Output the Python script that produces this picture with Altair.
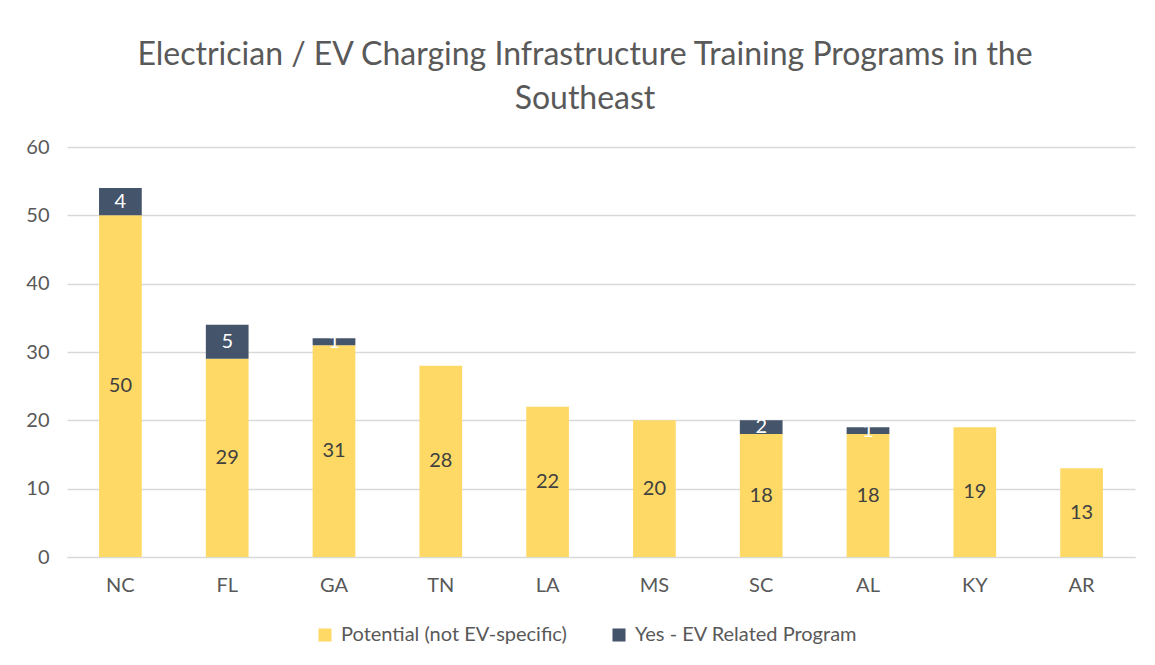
import altair as alt
import pandas as pd

states = ["NC", "FL", "GA", "TN", "LA", "MS", "SC", "AL", "KY", "AR"]
potential = [50, 29, 31, 28, 22, 20, 18, 18, 19, 13]
ev_related = [4, 5, 1, 0, 0, 0, 2, 1, 0, 0]
series = ["Potential (not EV-specific)", "Yes - EV Related Program"]
colors = ["#FFD966", "#44546A"]

rows = []
for s, p, e in zip(states, potential, ev_related):
    rows.append({"state": s, "series": series[0], "value": p, "ord": 0})
    rows.append({"state": s, "series": series[1], "value": e, "ord": 1})
df = pd.DataFrame(rows)

FONT = "Lato"
GRAY = "#595959"

x_enc = alt.X("state:N", sort=states, title=None,
              scale=alt.Scale(paddingInner=0.6, paddingOuter=0.3),
              axis=alt.Axis(labelAngle=0, ticks=False, domain=True, domainColor="#D9D9D9",
                            labelPadding=18, labelFontSize=20, labelColor=GRAY, labelFont=FONT))

base = alt.Chart(df)

bars = base.mark_bar().encode(
    x=x_enc,
    y=alt.Y("value:Q", stack="zero", title=None,
            scale=alt.Scale(domain=[0, 60]),
            axis=alt.Axis(values=[0, 10, 20, 30, 40, 50, 60], ticks=False, domain=False,
                          gridColor="#D9D9D9", gridWidth=1.3, labelPadding=18,
                          labelFontSize=20, labelColor=GRAY, labelFont=FONT)),
    color=alt.Color("series:N", scale=alt.Scale(domain=series, range=colors),
                    legend=alt.Legend(title=None, orient="none", direction="horizontal",
                                      legendX=248, legendY=478, symbolType="square",
                                      symbolSize=170, symbolStrokeWidth=0,
                                      labelFontSize=20, labelColor=GRAY, labelFont=FONT,
                                      labelLimit=0, columnPadding=42, labelOffset=6)),
    order=alt.Order("ord:Q"),
)

labels_base = base.transform_filter("datum.value > 0").transform_stack(
    stack="value", groupby=["state"], as_=["y0", "y1"], sort=[alt.SortField("ord")]
).transform_calculate(mid="(datum.y0 + datum.y1) / 2")

pot_labels = labels_base.transform_filter(f"datum.series == '{series[0]}'").mark_text(
    font=FONT, fontSize=20, color="#404040").encode(
    x=alt.X("state:N", sort=states), y=alt.Y("mid:Q"), text="value:Q")

ev_labels = labels_base.transform_filter(f"datum.series == '{series[1]}'").mark_text(
    font=FONT, fontSize=20, color="white").encode(
    x=alt.X("state:N", sort=states), y=alt.Y("mid:Q"), text="value:Q")

chart = alt.layer(bars, pot_labels, ev_labels).properties(
    width=1068, height=410,
    autosize=alt.AutoSizeParams(type="none"),
    padding={"left": 59, "top": 139, "right": 12, "bottom": 100},
    title=alt.TitleParams(
        ["Electrician / EV Charging Infrastructure Training Programs in the", "Southeast"],
        font=FONT, fontSize=32, fontWeight="normal", color=GRAY, anchor="middle",
        lineHeight=44, offset=21, dx=-16),
).configure_view(stroke=None)

chart.save("out.html", embed_options={"renderer": "svg", "actions": False})
